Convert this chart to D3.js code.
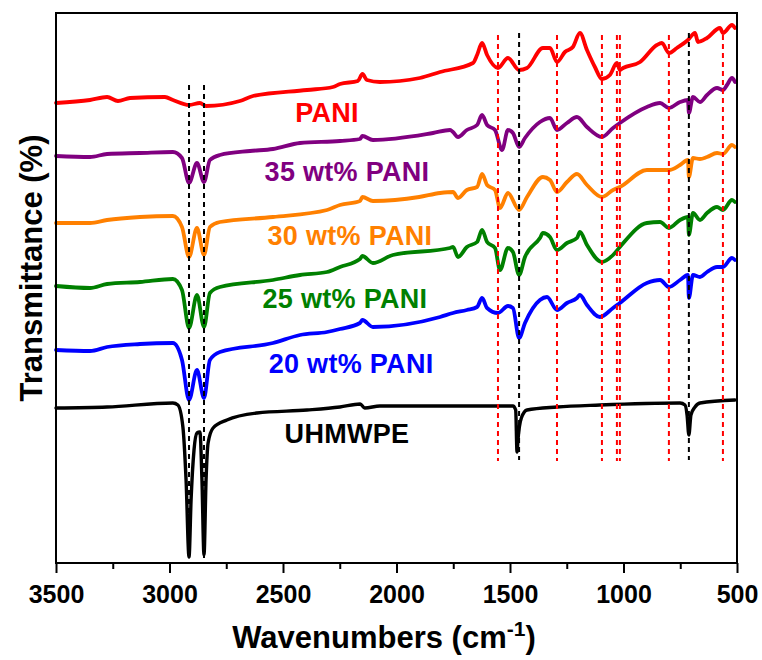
<!DOCTYPE html>
<html>
<head>
<meta charset="utf-8">
<script src="https://cdn.jsdelivr.net/npm/d3@7"></script>
<style>
  html, body { margin: 0; padding: 0; background: #ffffff; }
  svg { display: block; }
  text { font-family: "Liberation Sans", Arial, sans-serif; font-weight: bold; }
</style>
</head>
<body>
<svg id="chart" width="762" height="660"></svg>
<script>
// ---- Data (wavenumber cm^-1, transmittance in arbitrary offset units) ----
const xTicks = [3500, 3000, 2500, 2000, 1500, 1000, 500];
const xMinorTicks = [3250, 2750, 2250, 1750, 1250, 750];

const seriesNames = ["PANI", "35 wt% PANI", "30 wt% PANI", "25 wt% PANI", "20 wt% PANI", "UHMWPE"];
const seriesColors = ["#ff0000", "#800080", "#ff8000", "#008000", "#0000ff", "#000000"];

const pani = [
  [3500,460],[3350,463],[3275,466],[3227,462],[3174,465],[3020,466],[2985,463],[2914,458],[2866,460],
  [2839,457],[2690,462],[2632,467],[2394,473],[2280,476],[2249,479],[2170,482],[2150,489],[2130,483],
  [2073,481],[1897,485],[1808,491],[1663,500],[1645,508],[1623,520],[1601,508],[1553,495],[1509,505],
  [1460,493],[1425,495],[1355,515],[1324,515],[1293,501],[1258,511],[1223,516],[1192,530],[1161,513],
  [1126,496],[1095,484],[1060,488],[1029,500],[1016,493],[1002,495],[927,501],[853,518],[831,520],
  [800,510],[765,515],[716,523],[685,530],[672,521],[632,525],[575,535],[562,530],[522,538],[509,535]
];
const pani35 = [
  [3500,407],[3350,406],[3275,409],[3130,410],[2985,411],[2945,405],[2914,380],[2879,400],[2848,381],
  [2822,403],[2778,408],[2645,412],[2544,414],[2425,420],[2249,422],[2161,424],[2150,427],[2104,423],
  [1839,430],[1764,433],[1751,431],[1729,426],[1690,433],[1645,438],[1623,448],[1601,438],[1566,433],
  [1535,413],[1509,433],[1487,430],[1460,416],[1434,425],[1368,441],[1324,445],[1293,433],[1249,440],
  [1205,446],[1161,436],[1095,426],[1046,435],[1016,440],[897,456],[839,460],[800,455],[751,461],
  [716,463],[712,450],[694,466],[663,461],[632,468],[588,475],[562,473],[544,478],[522,485],[509,481]
];
const pani30 = [
  [3500,340],[3350,340],[3275,343],[3130,346],[2985,347],[2945,336],[2914,306],[2879,335],[2848,308],
  [2822,336],[2778,341],[2544,346],[2306,353],[2249,358],[2161,362],[2150,366],[2104,362],[1900,366],
  [1808,370],[1751,371],[1729,365],[1690,373],[1645,376],[1623,389],[1601,378],[1566,373],[1544,355],
  [1509,370],[1460,353],[1425,366],[1355,386],[1324,383],[1293,371],[1249,381],[1205,389],[1161,378],
  [1095,366],[1046,373],[1016,376],[897,393],[800,393],[751,398],[716,403],[712,386],[694,405],
  [663,404],[632,406],[588,410],[562,409],[522,418],[509,416]
];
const pani25 = [
  [3500,277],[3350,275],[3275,279],[3130,281],[2985,284],[2945,273],[2914,235],[2879,268],[2848,236],
  [2822,270],[2778,276],[2544,283],[2425,288],[2306,291],[2249,296],[2161,304],[2150,307],[2104,300],
  [2016,308],[1764,315],[1751,316],[1729,306],[1690,316],[1645,321],[1623,333],[1601,321],[1566,315],
  [1544,293],[1509,315],[1487,311],[1460,288],[1434,306],[1368,325],[1355,330],[1324,326],[1293,313],
  [1249,320],[1205,325],[1192,331],[1161,318],[1095,301],[1046,308],[1016,316],[897,340],[839,341],
  [800,335],[751,343],[716,346],[712,328],[694,350],[663,343],[632,350],[588,356],[562,353],[522,363],[509,361]
];
const pani20 = [
  [3500,213],[3350,212],[3275,216],[3130,219],[2985,220],[2945,203],[2914,163],[2879,193],[2848,165],
  [2822,203],[2778,211],[2544,220],[2425,228],[2306,231],[2249,234],[2161,240],[2150,243],[2104,236],
  [1808,246],[1751,250],[1690,253],[1645,256],[1623,265],[1601,255],[1553,250],[1509,257],[1487,255],
  [1460,225],[1434,240],[1368,263],[1337,266],[1293,253],[1249,260],[1205,265],[1192,268],[1161,258],
  [1104,246],[1046,255],[1016,260],[897,280],[839,283],[800,276],[751,283],[716,288],[712,265],
  [694,288],[663,286],[632,291],[588,296],[562,296],[522,305],[509,303]
];
const uhmwpe = [
  [3500,155],[3275,156],[2985,160],[2963,158],[2941,136],[2927,83],[2914,6],[2905,63],[2892,113],
  [2879,130],[2866,131],[2857,83],[2848,8],[2839,83],[2830,120],[2808,135],[2747,143],[2615,150],
  [2394,153],[2249,156],[2160,159],[2140,155],[2073,157],[1808,157],[1487,157],[1475,153],[1469,111],
  [1465,123],[1450,145],[1425,153],[1293,156],[1104,158],[751,160],[729,158],[720,148],[712,128],
  [703,148],[685,156],[663,160],[509,163]
];
const seriesData = [pani, pani35, pani30, pani25, pani20, uhmwpe];

// reference lines (wavenumber) and their vertical extents
const blackLinesCH = [2914, 2848];
const blackLinesCHExtent = [3, 478];
const blackLinesOther = [1460, 712];
const blackLinesOtherExtent = [103, 530];
const redLines = [1553, 1293, 1095, 1029, 1016, 800, 562];
const redLinesExtent = [102, 528];

// label positions in data units: [wavenumber of centre, transmittance of baseline]
const labelPos = [[2306,441],[2218,382],[2205,318],[2227,255],[2200,190],[2218,120]];

// ---- Chart ----
const svg = d3.select("#chart");
const x = d3.scaleLinear().domain([3500, 500]).range([56, 737]);
const y = d3.scaleLinear().domain([0, 550]).range([563, 13]);

const line = d3.line()
  .x(d => x(d[0]))
  .y(d => y(d[1]))
  .curve(d3.curveMonotoneX);

// curves
seriesData.forEach((s, i) => {
  svg.append("path")
    .datum(s)
    .attr("d", line)
    .attr("fill", "none")
    .attr("stroke", seriesColors[i])
    .attr("stroke-width", i === 5 ? 3.4 : 3.8)
    .attr("stroke-linejoin", "round")
    .attr("stroke-linecap", "round");
});

// dashed reference lines
function vline(wn, ext, color) {
  svg.append("line")
    .attr("x1", x(wn)).attr("x2", x(wn))
    .attr("y1", y(ext[1])).attr("y2", y(ext[0]))
    .attr("stroke", color)
    .attr("stroke-width", 2)
    .attr("stroke-dasharray", "5,4");
}
blackLinesCH.forEach(w => vline(w, blackLinesCHExtent, "#000"));
blackLinesOther.forEach(w => vline(w, blackLinesOtherExtent, "#000"));
redLines.forEach(w => vline(w, redLinesExtent, "#ff0000"));

// labels
seriesNames.forEach((n, i) => {
  svg.append("text")
    .attr("x", x(labelPos[i][0]))
    .attr("y", y(labelPos[i][1]))
    .attr("text-anchor", "middle")
    .attr("fill", seriesColors[i])
    .attr("font-size", 27)
    .style("letter-spacing", "0.3px")
    .text(n);
});

// frame
svg.append("rect")
  .attr("x", x(3500)).attr("y", y(550))
  .attr("width", x(500) - x(3500)).attr("height", y(0) - y(550))
  .attr("fill", "none").attr("stroke", "#000").attr("stroke-width", 2);

// x axis
const gx = svg.append("g").attr("transform", `translate(0,${y(0)})`)
  .call(d3.axisBottom(x).tickValues(xTicks).tickSize(10).tickPadding(12).tickFormat(d3.format("d")));
gx.select(".domain").remove();
gx.selectAll(".tick line").attr("stroke", "#000").attr("stroke-width", 2);
gx.selectAll(".tick text").attr("font-size", 25).attr("fill", "#000")
  .style("font-family", '"Liberation Sans", Arial, sans-serif').style("font-weight", "bold");

const gm = svg.append("g").attr("transform", `translate(0,${y(0)})`)
  .call(d3.axisBottom(x).tickValues(xMinorTicks).tickSize(6).tickFormat(""));
gm.select(".domain").remove();
gm.selectAll(".tick line").attr("stroke", "#000").attr("stroke-width", 2);

// axis titles
const xt = svg.append("text")
  .attr("x", 384).attr("y", 648)
  .attr("text-anchor", "middle")
  .attr("font-size", 31)
  .attr("fill", "#000");
xt.append("tspan").text("Wavenumbers (cm");
xt.append("tspan").attr("dy", -12).attr("font-size", 21).text("-1");
xt.append("tspan").attr("dy", 12).text(")");

svg.append("text")
  .attr("transform", "translate(42,268) rotate(-90)")
  .attr("text-anchor", "middle")
  .attr("font-size", 31)
  .attr("fill", "#000")
  .text("Transmittance (%)");
</script>
</body>
</html>
